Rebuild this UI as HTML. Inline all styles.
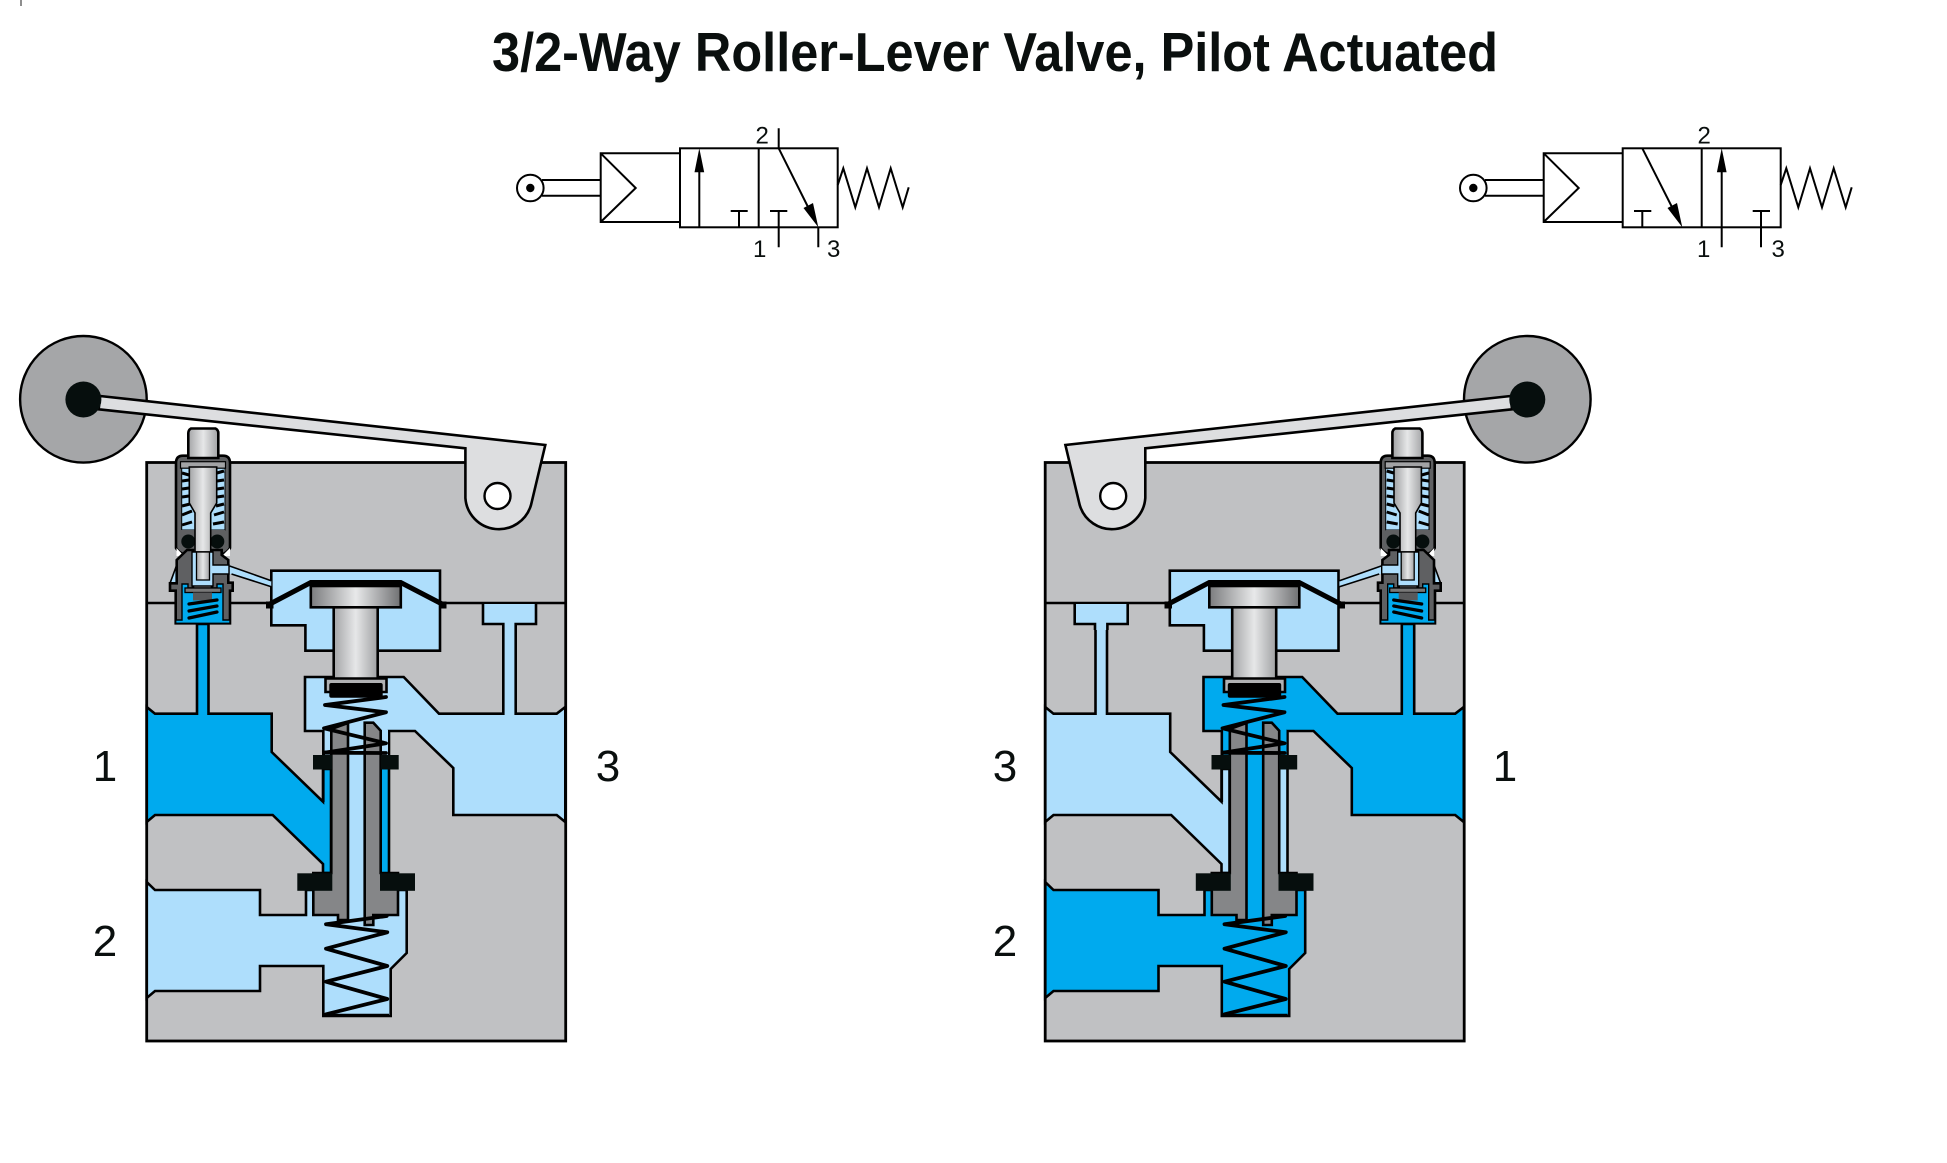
<!DOCTYPE html>
<html><head><meta charset="utf-8"><style>
html,body{margin:0;padding:0;background:#fff}
svg{display:block}
text{font-family:"Liberation Sans",sans-serif;fill:#0a0f0e}
.s{stroke:#000;stroke-width:2.6;stroke-linejoin:miter;fill:none}
.f{stroke:#000;stroke-width:2.6;stroke-linejoin:miter}
.y{stroke:#000;stroke-width:1.6;fill:none;stroke-linejoin:miter}
.sp{stroke:#000;stroke-width:3.8;fill:none;stroke-linejoin:round;stroke-linecap:round}
</style></head><body>
<svg xmlns="http://www.w3.org/2000/svg" width="1947" height="1163" viewBox="0 0 1947 1163">
<defs>
<linearGradient id="g1"><stop offset="0" stop-color="#a4a5a7"/><stop offset=".5" stop-color="#e6e7e8"/><stop offset="1" stop-color="#a0a1a3"/></linearGradient>
<linearGradient id="g2"><stop offset="0" stop-color="#7b7c7e"/><stop offset=".5" stop-color="#e8e9ea"/><stop offset="1" stop-color="#6f7072"/></linearGradient>

<g id="body">
<rect x="146.7" y="462.5" width="419" height="578.5" fill="#c0c1c3"/>
<path class="s" d="M146.7 603H566"/>
<path class="f" fill="#aedefc" d="M271.3 570.7H440V650.7H305.4V625.3H271.3Z"/>
<path class="f" style="fill:var(--p)" d="M146.7 707L155 713.7H197V624H208.5V713.7H271.7V752L323 801.7V769H331V873H323V864L272.7 815H155L146.7 822Z"/>
<path class="f" style="fill:var(--u)" d="M305 677H403.7L439 713.7H503.3V624H515.7V713.7H556.7L565.3 707V822L556.7 815H453.3V768L415 731H389V755H323.3V731H305Z"/>
<path style="fill:var(--p)" d="M381 769H389V873H381Z"/>
<path class="s" d="M389 755V873M323.3 769V802"/>
<path class="f" style="fill:var(--u)" d="M146.7 882L155 890H260V915H306V890H406.7V953L390.7 969V1016H323.3V966H260V991H155L146.7 998Z"/>
<rect x="325" y="730" width="63" height="30" style="fill:var(--u)"/>
<rect x="347" y="725" width="19" height="200" style="fill:var(--u)"/>
<path class="f" fill="#858688" d="M331.3 729L348 723V920H338V915H313.3V873H331.3Z"/>
<path class="f" fill="#858688" d="M364.7 722.7H373.3L380.7 730.7V873H398V915H373.3V925H364.7Z"/>
<g fill="#060e0d">
<rect x="313" y="755" width="19" height="14.5"/><rect x="380.7" y="755" width="18" height="14.5"/>
<rect x="297.3" y="873.3" width="35" height="17.5"/><rect x="380" y="873.3" width="35" height="17.5"/>
</g>
<path class="sp" d="M386 697L325 705L386 712.3L324 728.3L386 743.3L324 752.7L386 753"/>
<path class="sp" d="M386.7 916L326 924.3L387.3 932.3L326 948.7L387.3 966L326 981.7L387.3 999L326 1014.3"/>
<path class="s" d="M326 1015H389"/>
<rect class="f" x="333.7" y="606" width="44" height="73" fill="url(#g1)"/>
<path class="f" fill="#b0b1b3" d="M325.5 678.5H386.5V692H325.5Z"/>
<rect x="329.3" y="683" width="53.4" height="14.7" rx="2" fill="#000"/>
<rect class="f" x="310.8" y="586" width="90" height="21.3" fill="url(#g2)"/>
<path d="M268 605L310.8 582.5H400.7L444 605" fill="none" stroke="#000" stroke-width="5"/>
<rect x="311" y="580" width="90" height="6" fill="#000"/>
<rect x="266" y="601.5" width="7.5" height="7"/><rect x="439" y="601.5" width="7.5" height="7"/>
<rect x="146.7" y="462.5" width="419" height="578.5" fill="none" stroke="#000" stroke-width="2.8"/>
</g>

<g id="texh">
<path fill="#aedefc" d="M483 604H536V624H515.7V630H503.3V624H483Z"/>
<path class="s" d="M483 603V624H503.3V630M515.7 630V624H536V603"/>
</g>

<g id="lever">
<circle cx="83.4" cy="399.3" r="63.3" fill="#a5a6a8" stroke="#000" stroke-width="2.4"/>
<path class="f" fill="#dddee0" d="M100 396L545.3 445L531 505A33.5 33.5 0 0 1 465.4 498V448.3L98.7 409.3Z"/>
<circle cx="83.4" cy="399.5" r="18" fill="#060e0d"/>
<circle cx="497.5" cy="496" r="13" fill="#fff" stroke="#000" stroke-width="2.4"/>
</g>

<g id="pilot">
<path fill="#aedefc" d="M205 565H229.6L271.3 580.7V586.7L231.5 574H205Z"/>
<path class="y" d="M229.6 566L271.3 580.7M231.5 574L271.3 586.7" stroke-width="2"/>
<path class="f" fill="#5f6062" d="M176 548V463Q176 455.7 183 455.7H223Q230 455.7 230 463V548Q228 552 221 555H185Q178 552 176 548Z"/>
<rect x="181.7" y="468" width="43.3" height="62" fill="#aedefc" stroke="#000" stroke-width="1"/>
<path d="M182 473L189 475M182 481L189 480M182 489L189 488M182 497L189 496M182 506L190 504M182 515L192 511M182 525L192 522M217 473L224 471M217 481L224 480M217 489L224 488M217 497L224 496M216 506L224 504M214 515L224 512M213 524L224 522" stroke="#000" stroke-width="3" fill="none"/>
<rect x="181" y="530" width="44" height="20" fill="#5f6062"/>
<path d="M176.5 548L184 556H176.5ZM230 548L222 556H230Z" fill="#fff"/>
<circle cx="188.3" cy="541.5" r="7" fill="#060e0d"/><circle cx="217.3" cy="541.5" r="7" fill="#060e0d"/>
<path class="f" fill="url(#g1)" d="M188.3 458V433Q188.3 430 191 428.5H215.5Q218.3 430 218.3 433V458Z"/>
<rect x="180.5" y="461.7" width="45" height="6.5" fill="#a2a3a5" stroke="#000" stroke-width="1.2"/>
<path class="y" style="fill:url(#g1)" d="M189.3 467H216.7V503L210.7 513V552H195V513L189.3 503Z"/>
<path fill="#aedefc" stroke="#000" stroke-width="1.6" d="M176.7 565L170 583.3H176.7Z"/>
<path class="f" fill="#5f6062" d="M187 550L176.7 560V583.3H170V590.7H175.7V623.3H230V590.7H232.7V582.7H228.3V560L221.7 555V550H212V590H193V550Z"/>
<path fill="#aedefc" stroke="#000" stroke-width="1.4" d="M192 552H213V565H229V574H213V586H192Z"/>
<rect x="196.5" y="552" width="13" height="28" fill="url(#g1)" stroke="#000" stroke-width="1.3"/>
<path fill="#00aaee" stroke="#000" stroke-width="1.4" d="M182 584H188V588H217V584H223V620H230V623.3H175.7V620H182Z"/>
<rect x="185" y="588" width="36" height="4.5" fill="#777" stroke="#000" stroke-width="1.3"/>
<rect x="193" y="592.5" width="19" height="8" fill="#58595b"/>
<path d="M189 604L217 600M189 611L217 606M189 618L217 612" stroke="#000" stroke-width="3.2" fill="none" stroke-linecap="round"/>
</g>

<g id="sym" class="y">
<circle cx="530.3" cy="188" r="13.3" fill="#fff" stroke="#000" stroke-width="2"/>
<circle cx="530.3" cy="188" r="4.2" fill="#000" stroke="none"/>
<path stroke-width="2" d="M542 180H600.7M542 195.7H600.7M680 153.3H600.7V222H680M600.7 153.3L635.7 188L600.7 222"/>
<path stroke-width="2" d="M837.7 185L843.3 168.3L855.3 207.3L867 168.3L879 207.3L890.7 168.3L902.7 207.3L908.7 187.3"/>
</g>
</defs>

<rect width="1947" height="1163" fill="#fff"/>
<path d="M21 0V6" stroke="#444" stroke-width="1.2"/>
<text x="492" y="71" font-size="55" font-weight="bold" textLength="1006" lengthAdjust="spacingAndGlyphs">3/2-Way Roller-Lever Valve, Pilot Actuated</text>

<!-- symbols -->
<use href="#sym"/>
<use href="#sym" x="943"/>
<g fill="none" stroke="#000" stroke-width="2">
<rect x="680" y="148.3" width="157.7" height="79"/>
<path d="M758.7 148.3V227.3M699.3 227.3V170M739 227.3V211M730.7 211H747.7M778.7 128.3V148.3L815 221M818.3 227.3V247.3M778.7 211V247.3M770 211H787.3"/>
<rect x="1622.7" y="148.3" width="158" height="79"/>
<path d="M1701.7 148.3V227.3M1642.3 227.3V211M1634 211H1651.3M1642.3 148.3L1679 221M1721.7 247.3V170M1761 211V247.3M1752.7 211H1770"/>
</g>
<g fill="#000">
<path d="M699.3 148.3L694.5 172.3H704.2Z"/>
<path d="M818.3 227.3L803.5 208L813 203Z"/>
<path d="M1721.7 148.3L1716.9 172.3H1726.6Z"/>
<path d="M1682.3 227.3L1667.5 208L1677 203Z"/>
</g>
<g font-size="24">
<text x="755.5" y="143.5">2</text><text x="753" y="257">1</text><text x="827" y="257">3</text>
<text x="1697.5" y="143.5">2</text><text x="1697" y="257">1</text><text x="1771.5" y="257">3</text>
</g>

<!-- left valve -->
<use href="#body" style="--p:#00aaee;--u:#aedefc"/>
<use href="#texh"/>
<use href="#pilot"/>
<use href="#lever"/>

<!-- right valve -->
<use href="#body" x="898.5" style="--p:#aedefc;--u:#00aaee"/>
<g transform="matrix(-1 0 0 1 1610.7 0)">
<use href="#texh"/>
<use href="#pilot"/>
<use href="#lever"/>
</g>

<g font-size="44" text-anchor="middle">
<text x="105" y="781">1</text><text x="608" y="781">3</text><text x="105" y="956">2</text>
<text x="1005" y="781">3</text><text x="1505" y="781">1</text><text x="1005" y="956">2</text>
</g>
</svg>
</body></html>
